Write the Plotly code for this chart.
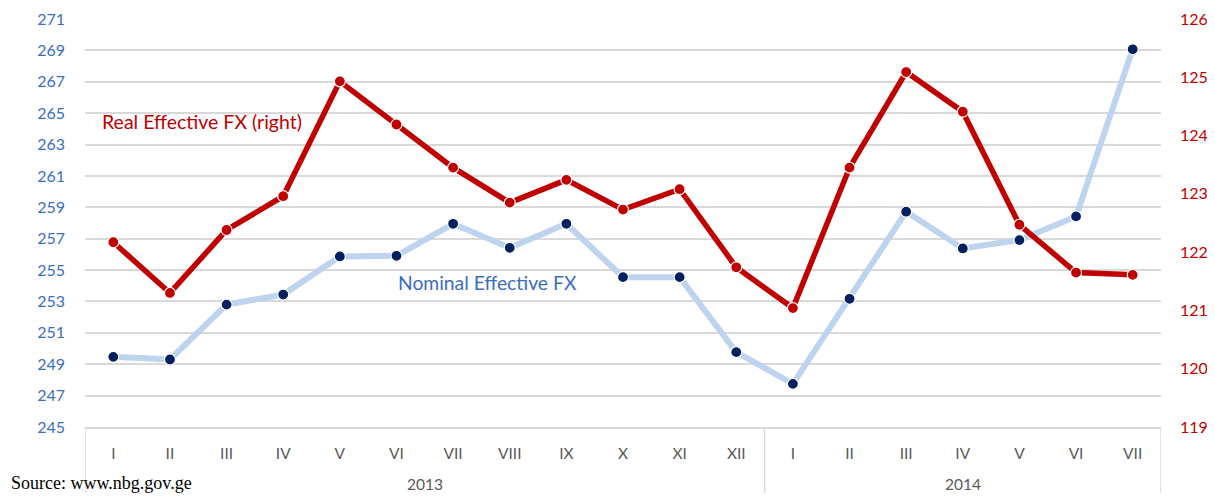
import plotly.graph_objects as go

months = ["I", "II", "III", "IV", "V", "VI", "VII", "VIII", "IX", "X", "XI", "XII",
          "I", "II", "III", "IV", "V", "VI", "VII"]
years = ["2013"] * 12 + ["2014"] * 7
nominal = [249.47, 249.3, 252.8, 253.44, 255.87, 255.91, 257.95, 256.42, 257.95, 254.55,
           254.55, 249.77, 247.75, 253.17, 258.72, 256.38, 256.91, 258.42, 269.07]
real = [122.17, 121.30, 122.38, 122.96, 124.93, 124.19, 123.45, 122.85, 123.24, 122.73,
        123.08, 121.74, 121.04, 123.45, 125.09, 124.41, 122.47, 121.65, 121.61]
left_ticks = list(range(245, 272, 2))
right_ticks = list(range(119, 127))

x = list(range(len(months)))

fig = go.Figure()
fig.add_trace(go.Scatter(
    x=x, y=nominal, mode="lines+markers", name="Nominal Effective FX",
    line=dict(color="#BDD3EE", width=6),
    marker=dict(color="#002060", size=11, line=dict(color="white", width=1.2)),
    yaxis="y", cliponaxis=False))
fig.add_trace(go.Scatter(
    x=x, y=real, mode="lines+markers", name="Real Effective FX (right)",
    line=dict(color="#C00000", width=5.5),
    marker=dict(color="#C00000", size=11, line=dict(color="white", width=1.2)),
    yaxis="y2", cliponaxis=False))

font_family = "Lato, Carlito, 'Open Sans', sans-serif"

# the page body adds an 8px margin on every side, so the figure is sized to fit inside it
fig.update_layout(
    width=1199, height=485,
    margin=dict(l=77, r=46, t=11, b=66, autoexpand=False),
    paper_bgcolor="white", plot_bgcolor="white",
    showlegend=False,
    font=dict(family=font_family),
    xaxis=dict(
        range=[-0.5, len(months) - 0.5],
        tickvals=x, ticktext=months,
        showgrid=False, zeroline=False, automargin=False,
        showline=True, linecolor="#D9D9D9", linewidth=1.5,
        ticks="", ticklabelstandoff=12,
        tickfont=dict(size=15.5, color="#595959", family=font_family),
    ),
    yaxis=dict(
        range=[245, 271], tickvals=left_ticks, automargin=False,
        showgrid=True, gridcolor="#D9D9D9", gridwidth=1.5,
        zeroline=False, showline=False, ticks="",
        ticklabelstandoff=19, ticklabeloverflow="allow",
        tickfont=dict(size=16, color="#3A6EBF", family=font_family),
    ),
    yaxis2=dict(
        range=[119, 126], tickvals=right_ticks, automargin=False,
        overlaying="y", side="right",
        showgrid=False, zeroline=False, showline=False, ticks="",
        ticklabelstandoff=18, ticklabeloverflow="allow",
        tickfont=dict(size=16, color="#C00000", family=font_family),
    ),
)

# category group dividers
group_edges = [-0.5, 11.5, len(months) - 0.5]
for gx in group_edges:
    fig.add_shape(type="line", xref="x", yref="paper", x0=gx, x1=gx, y0=0, y1=-0.2,
                  line=dict(color="#D9D9D9", width=1.5))

# year labels
for yr in ["2013", "2014"]:
    idx = [i for i, v in enumerate(years) if v == yr]
    fig.add_annotation(x=(idx[0] + idx[-1]) / 2, y=0, xref="x", yref="paper",
                       yshift=-57, text=yr, showarrow=False, yanchor="middle",
                       font=dict(size=15.5, color="#595959", family=font_family))

fig.add_annotation(x=0, y=0.748, xref="paper", yref="paper", xanchor="left", yanchor="middle",
                   xshift=15, text="Real Effective FX (right)", showarrow=False,
                   font=dict(size=19.5, color="#C00000", family=font_family))
fig.add_annotation(x=0, y=0.355, xref="paper", yref="paper", xanchor="left", yanchor="middle",
                   xshift=311, text="Nominal Effective FX", showarrow=False,
                   font=dict(size=19.3, color="#3A6EBF", family=font_family))
fig.add_annotation(x=0, y=0, xref="paper", yref="paper", xanchor="left", yanchor="top",
                   xshift=-76, yshift=-44, text="Source: www.nbg.gov.ge", showarrow=False,
                   font=dict(size=18, color="black", family="'Liberation Serif', 'Times New Roman', serif"))

fig.write_html("out.html")
